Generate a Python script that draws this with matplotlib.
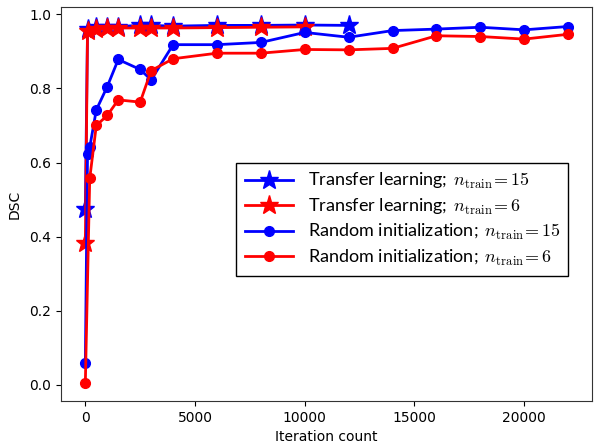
import matplotlib
matplotlib.use("Agg")
import matplotlib.pyplot as plt

plt.rcParams['mathtext.fontset'] = 'cm'

tl15_x = [0, 100, 500, 1000, 1500, 2500, 3000, 4000, 6000, 8000, 10000, 12000]
tl15_y = [0.475, 0.960, 0.966, 0.967, 0.967, 0.970, 0.970, 0.968, 0.970, 0.970, 0.971, 0.970]

tl6_x = [0, 100, 500, 1000, 1500, 2500, 3000, 4000, 6000, 8000, 10000]
tl6_y = [0.383, 0.955, 0.960, 0.962, 0.963, 0.963, 0.963, 0.963, 0.964, 0.965, 0.966]

ri15_x = [0, 100, 200, 500, 1000, 1500, 2500, 3000, 4000, 6000, 8000, 10000,
          12000, 14000, 16000, 18000, 20000, 22000]
ri15_y = [0.058, 0.624, 0.641, 0.742, 0.805, 0.878, 0.851, 0.823, 0.918, 0.918,
          0.924, 0.951, 0.938, 0.956, 0.960, 0.965, 0.958, 0.967]

ri6_x = [0, 200, 500, 1000, 1500, 2500, 3000, 4000, 6000, 8000, 10000,
         12000, 14000, 16000, 18000, 20000, 22000]
ri6_y = [0.005, 0.557, 0.700, 0.727, 0.769, 0.763, 0.848, 0.880, 0.895, 0.895,
         0.905, 0.904, 0.908, 0.942, 0.940, 0.933, 0.946]

labels = [
    r'Transfer learning; $\,n_{\mathrm{train}}\!= 15$',
    r'Transfer learning; $\,n_{\mathrm{train}}\!= 6$',
    r'Random initialization; $\,n_{\mathrm{train}}\!= 15$',
    r'Random initialization; $\,n_{\mathrm{train}}\!= 6$',
]

fig = plt.figure(figsize=(6.0, 4.45), dpi=100)
ax = fig.add_axes([0.102, 0.099, 0.885, 0.885])

ax.plot(tl15_x, tl15_y, color='blue', marker='*', markersize=14, lw=2, label=labels[0])
ax.plot(tl6_x, tl6_y, color='red', marker='*', markersize=14, lw=2, label=labels[1])
ax.plot(ri15_x, ri15_y, color='blue', marker='o', markersize=7, lw=2, label=labels[2])
ax.plot(ri6_x, ri6_y, color='red', marker='o', markersize=7, lw=2, label=labels[3])

ax.set_xlabel('Iteration count', fontsize=10, labelpad=4)
ax.set_ylabel('DSC', fontsize=10, labelpad=6)
ax.set_xticks([0, 5000, 10000, 15000, 20000])
ax.set_yticks([0.0, 0.2, 0.4, 0.6, 0.8, 1.0])
ax.tick_params(labelsize=10)
for s in ax.spines.values():
    s.set_color('#333333')

leg = ax.legend(loc='upper left', bbox_to_anchor=(0.33, 0.604), borderaxespad=0,
                fancybox=False, edgecolor='black', framealpha=1,
                prop={'family': 'Lato', 'size': 13},
                handlelength=2.7, labelspacing=0.3, handletextpad=0.8,
                borderpad=0.45)
leg.get_frame().set_linewidth(1.0)

fig.savefig('out.png', dpi=100)
